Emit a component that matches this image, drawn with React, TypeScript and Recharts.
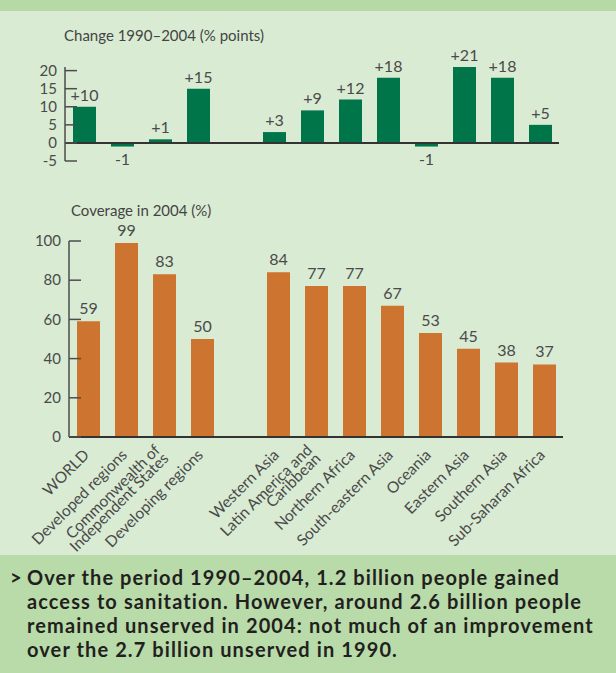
import React from "react";
import {
  Bar,
  BarChart,
  LabelList,
  ReferenceLine,
  XAxis,
  YAxis,
} from "recharts";

const regions = [
  "WORLD",
  "Developed regions",
  "Commonwealth of|Independent States",
  "Developing regions",
  "",
  "Western Asia",
  "Latin America and|Caribbean",
  "Northern Africa",
  "South-eastern Asia",
  "Oceania",
  "Eastern Asia",
  "Southern Asia",
  "Sub-Saharan Africa",
];

const change = [10, -1, 1, 15, null, 3, 9, 12, 18, -1, 21, 18, 5];
const coverage = [59, 99, 83, 50, null, 84, 77, 77, 67, 53, 45, 38, 37];

const changeTicks = [-5, 0, 5, 10, 15, 20];
const coverageTicks = [0, 20, 40, 60, 80, 100];

const captionLines = [
  "Over the period 1990–2004, 1.2 billion people gained",
  "access to sanitation. However, around 2.6 billion people",
  "remained unserved in 2004: not much of an improvement",
  "over the 2.7 billion unserved in 1990.",
];

const rows = regions.map((name, i) => ({
  name: name || " ",
  change: change[i],
  coverage: coverage[i],
}));

const FONT = "Lato, 'Open Sans', sans-serif";
const TEXT = "#4a4a4a";
const GREEN = "#00754a";
const ORANGE = "#cc7430";

function InnerTick(props: any) {
  const { x, y, payload } = props;
  return (
    <g>
      <line x1={x + 8} x2={x + 20} y1={y} y2={y} stroke="#4d4d4d" strokeWidth={1.5} />
      <text x={x} y={y} dy="0.35em" textAnchor="end" fill={TEXT} fontSize={15} fontFamily={FONT}>
        {payload.value}
      </text>
    </g>
  );
}

function RegionTick(props: any) {
  const { x, y, payload } = props;
  const lines = String(payload.value).trim().split("|").filter(Boolean);
  const start = lines.length > 1 ? -7 : 0;
  return (
    <g transform={`translate(${x + 2},${y + 19}) rotate(-45)`}>
      <text textAnchor="end" fill={TEXT} fontSize={15.5} fontFamily={FONT}>
        {lines.map((l, i) => (
          <tspan key={i} x={0} y={start + i * 12}>
            {l}
          </tspan>
        ))}
      </text>
    </g>
  );
}

function ChangeLabel(props: any) {
  const { x, y, width, height, value } = props;
  if (value == null) return null;
  const top = Math.min(y, y + height);
  const bottom = Math.max(y, y + height);
  const cx = x + width / 2;
  return (
    <text
      x={cx}
      y={value >= 0 ? top - 6 : bottom + 18}
      textAnchor="middle"
      fill={TEXT}
      fontSize={16}
      fontFamily={FONT}
    >
      {value > 0 ? `+${value}` : value}
    </text>
  );
}

export default function App() {
  return (
    <div
      style={{
        position: "absolute",
        left: 0,
        top: 0,
        width: 616,
        height: 673,
        background: "#d9ebd3",
        fontFamily: FONT,
        overflow: "hidden",
      }}
    >
      <div style={{ position: "absolute", left: 0, top: 0, width: 616, height: 11, background: "#b6d9a6" }} />
      <div style={{ position: "absolute", left: 64, top: 28, fontSize: 15, lineHeight: "15px", color: "#444" }}>
        Change 1990–2004 (% points)
      </div>
      <div style={{ position: "absolute", left: 0, top: 0 }}>
        <BarChart
          width={616}
          height={180}
          data={rows}
          margin={{ top: 67, right: 57, bottom: 19, left: 0 }}
        >
          <XAxis dataKey="name" hide />
          <YAxis
            width={65}
            domain={[-5, 20]}
            ticks={changeTicks}
            interval={0}
            tickSize={0}
            tickMargin={8}
            tickLine={false}
            axisLine={{ stroke: "#4d4d4d", strokeWidth: 1.5 }}
            tick={<InnerTick />}
          />
          <Bar dataKey="change" fill={GREEN} barSize={23} isAnimationActive={false}>
            <LabelList dataKey="change" content={<ChangeLabel />} />
          </Bar>
          <ReferenceLine y={0} stroke="#333" strokeWidth={2} />
        </BarChart>
      </div>
      <div style={{ position: "absolute", left: 71, top: 203, fontSize: 15, lineHeight: "15px", color: "#444" }}>
        Coverage in 2004 (%)
      </div>
      <div style={{ position: "absolute", left: 0, top: 180 }}>
        <BarChart
          width={616}
          height={390}
          data={rows}
          margin={{ top: 61, right: 53, bottom: 0, left: 0 }}
        >
          <XAxis
            dataKey="name"
            height={133}
            interval={0}
            tickSize={0}
            tickMargin={0}
            tickLine={false}
            axisLine={{ stroke: "#333", strokeWidth: 2 }}
            tick={<RegionTick />}
          />
          <YAxis
            width={69}
            domain={[0, 100]}
            ticks={coverageTicks}
            interval={0}
            tickSize={0}
            tickMargin={8}
            tickLine={false}
            axisLine={{ stroke: "#4d4d4d", strokeWidth: 1.5 }}
            tick={<InnerTick />}
          />
          <Bar dataKey="coverage" fill={ORANGE} barSize={23} isAnimationActive={false}>
            <LabelList dataKey="coverage" position="top" offset={7} fill={TEXT} fontSize={16} fontFamily={FONT} />
          </Bar>
        </BarChart>
      </div>
      <div
        style={{
          position: "absolute",
          left: 0,
          top: 555,
          width: 616,
          height: 118,
          background: "#b8dba9",
          color: "#231f20",
          fontWeight: 700,
          fontSize: 20,
          letterSpacing: 1.1,
          lineHeight: "24px",
          whiteSpace: "nowrap",
        }}
      >
        <div style={{ position: "absolute", left: 10, top: 10 }}>&gt;</div>
        <div style={{ position: "absolute", left: 27, top: 10 }}>
          {captionLines.map((l, i) => (
            <div key={i}>{l}</div>
          ))}
        </div>
      </div>
    </div>
  );
}
